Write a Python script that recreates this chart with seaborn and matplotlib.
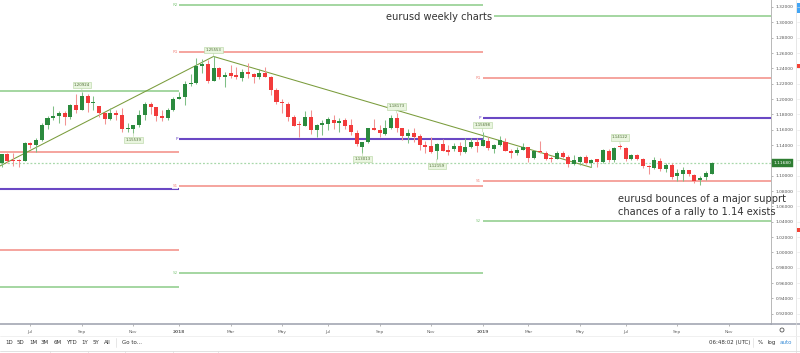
import numpy as np
import pandas as pd
import matplotlib
matplotlib.use("Agg")
import matplotlib.pyplot as plt
import matplotlib.transforms as mtransforms
from matplotlib.patches import Rectangle, Circle
import seaborn as sns

# ---------------- data ----------------
FIRST_WEEK = "2017-05-29"   # weekly bars (Mondays)
opens = [1.1165, 1.1283, 1.1205, 1.1200, 1.1194, 1.1424, 1.1395, 1.1465, 1.1663, 1.1750,
         1.1774, 1.1822, 1.1760, 1.1925, 1.1860, 1.2035, 1.1945, 1.1905, 1.1815, 1.1735,
         1.1820, 1.1785, 1.1605, 1.1608, 1.1662, 1.1790, 1.1930, 1.1895, 1.1772, 1.1750,
         1.1862, 1.2000, 1.2030, 1.2200, 1.2215, 1.2430, 1.2457, 1.2240, 1.2405, 1.2293,
         1.2335, 1.2313, 1.2280, 1.2355, 1.2325, 1.2283, 1.2335, 1.2288, 1.2120, 1.1965,
         1.1940, 1.1765, 1.1665, 1.1650, 1.1768, 1.1590, 1.1660, 1.1675, 1.1730, 1.1692,
         1.1725, 1.1655, 1.1561, 1.1380, 1.1443, 1.1617, 1.1598, 1.1540, 1.1617, 1.1748,
         1.1617, 1.1517, 1.1561, 1.1517, 1.1400, 1.1387, 1.1322, 1.1409, 1.1335, 1.1344,
         1.1391, 1.1304, 1.1370, 1.1435, 1.1387, 1.1457, 1.1348, 1.1400, 1.1443, 1.1322,
         1.1291, 1.1335, 1.1378, 1.1226, 1.1326, 1.1291, 1.1235, 1.1217, 1.1300, 1.1239,
         1.1148, 1.1183, 1.1239, 1.1161, 1.1213, 1.1175, 1.1326, 1.1204, 1.1378, 1.1356,
         1.1218, 1.1270, 1.1213, 1.1131, 1.1105, 1.1196, 1.1087, 1.1139, 1.0996, 1.1022,
         1.1070, 1.1013, 1.0939, 1.0987, 1.1026]
highs = [1.1285, 1.1296, 1.1296, 1.1212, 1.1445, 1.1445, 1.1490, 1.1684, 1.1777, 1.1910,
         1.1846, 1.1849, 1.1940, 1.2070, 1.2092, 1.2060, 1.2035, 1.1910, 1.1833, 1.1880,
         1.1860, 1.1880, 1.1690, 1.1666, 1.1862, 1.1961, 1.1961, 1.1900, 1.1862, 1.1880,
         1.2023, 1.2089, 1.2230, 1.2323, 1.2537, 1.2520, 1.2506, 1.2555, 1.2415, 1.2355,
         1.2445, 1.2413, 1.2388, 1.2476, 1.2339, 1.2396, 1.2414, 1.2300, 1.2144, 1.1996,
         1.1956, 1.1794, 1.1718, 1.1840, 1.1852, 1.1676, 1.1720, 1.1762, 1.1790, 1.1750,
         1.1750, 1.1745, 1.1600, 1.1445, 1.1623, 1.1734, 1.1660, 1.1720, 1.1790, 1.1815,
         1.1625, 1.1610, 1.1622, 1.1545, 1.1456, 1.1500, 1.1420, 1.1472, 1.1400, 1.1420,
         1.1440, 1.1486, 1.1485, 1.1497, 1.1570, 1.1500, 1.1416, 1.1515, 1.1490, 1.1342,
         1.1370, 1.1420, 1.1380, 1.1340, 1.1450, 1.1325, 1.1255, 1.1325, 1.1324, 1.1265,
         1.1265, 1.1263, 1.1265, 1.1215, 1.1220, 1.1348, 1.1348, 1.1370, 1.1412, 1.1375,
         1.1286, 1.1285, 1.1230, 1.1145, 1.1250, 1.1230, 1.1160, 1.1165, 1.1085, 1.1110,
         1.1075, 1.1025, 1.0999, 1.1063, 1.1172]
lows = [1.1110, 1.1170, 1.1132, 1.1119, 1.1186, 1.1366, 1.1313, 1.1455, 1.1612, 1.1730,
        1.1688, 1.1662, 1.1740, 1.1823, 1.1858, 1.1837, 1.1862, 1.1765, 1.1669, 1.1730,
        1.1730, 1.1574, 1.1574, 1.1554, 1.1632, 1.1722, 1.1810, 1.1717, 1.1717, 1.1724,
        1.1850, 1.1998, 1.1916, 1.2165, 1.2200, 1.2335, 1.2206, 1.2235, 1.2260, 1.2155,
        1.2270, 1.2260, 1.2240, 1.2280, 1.2215, 1.2255, 1.2283, 1.2055, 1.1940, 1.1823,
        1.1717, 1.1646, 1.1510, 1.1642, 1.1541, 1.1508, 1.1527, 1.1591, 1.1613, 1.1575,
        1.1610, 1.1530, 1.1390, 1.1301, 1.1430, 1.1590, 1.1510, 1.1525, 1.1611, 1.1575,
        1.1460, 1.1432, 1.1433, 1.1335, 1.1300, 1.1300, 1.1216, 1.1322, 1.1267, 1.1320,
        1.1269, 1.1300, 1.1355, 1.1310, 1.1385, 1.1340, 1.1290, 1.1390, 1.1322, 1.1234,
        1.1276, 1.1330, 1.1176, 1.1220, 1.1290, 1.1200, 1.1183, 1.1211, 1.1226, 1.1110,
        1.1135, 1.1135, 1.1150, 1.1107, 1.1116, 1.1160, 1.1181, 1.1181, 1.1350, 1.1193,
        1.1200, 1.1200, 1.1101, 1.1027, 1.1090, 1.1065, 1.1052, 1.0960, 1.0926, 1.0927,
        1.0990, 1.0905, 1.0879, 1.0940, 1.1025]
closes = [1.1283, 1.1196, 1.1195, 1.1190, 1.1424, 1.1400, 1.1465, 1.1663, 1.1750, 1.1774,
          1.1822, 1.1760, 1.1920, 1.1860, 1.2035, 1.1945, 1.1950, 1.1815, 1.1735, 1.1820,
          1.1785, 1.1605, 1.1608, 1.1662, 1.1790, 1.1930, 1.1895, 1.1772, 1.1750, 1.1862,
          1.2000, 1.2030, 1.2200, 1.2215, 1.2430, 1.2457, 1.2240, 1.2405, 1.2293, 1.2313,
          1.2300, 1.2290, 1.2355, 1.2325, 1.2283, 1.2335, 1.2288, 1.2120, 1.1960, 1.1945,
          1.1770, 1.1650, 1.1658, 1.1768, 1.1600, 1.1658, 1.1683, 1.1745, 1.1690, 1.1718,
          1.1650, 1.1568, 1.1409, 1.1440, 1.1617, 1.1600, 1.1552, 1.1625, 1.1748, 1.1617,
          1.1517, 1.1561, 1.1510, 1.1400, 1.1378, 1.1313, 1.1409, 1.1322, 1.1313, 1.1391,
          1.1304, 1.1370, 1.1435, 1.1387, 1.1465, 1.1357, 1.1400, 1.1465, 1.1322, 1.1291,
          1.1335, 1.1378, 1.1226, 1.1326, 1.1305, 1.1213, 1.1213, 1.1300, 1.1239, 1.1148,
          1.1204, 1.1239, 1.1161, 1.1204, 1.1183, 1.1330, 1.1204, 1.1365, 1.1372, 1.1213,
          1.1270, 1.1218, 1.1126, 1.1109, 1.1205, 1.1083, 1.1144, 1.0983, 1.1035, 1.1070,
          1.1017, 1.0930, 1.0974, 1.1035, 1.1168]

# yearly pivot levels (one segment per year)
pivot_years = [2017, 2018, 2019]
level_names = ["R2", "R1", "P", "S1", "S2"]
R2 = [1.2100, 1.3231, 1.3085]
R1 = [1.1311, 1.2618, 1.2276]
P = [1.0826, 1.1479, 1.1746]
S1 = [1.0036, 1.0866, 1.0937]
S2 = [0.9551, 0.9727, 1.0407]

# trend lines (date, price anchors)
trend1_dates = ["2017-05-22", "2018-02-12"]
trend1_prices = [1.1100, 1.2555]
trend2_dates = ["2018-02-12", "2019-05-20"]
trend2_prices = [1.2555, 1.1107]

# swing high / low markers
marker_dates = ["2017-09-04", "2017-11-06", "2018-02-12", "2018-08-13",
                "2018-09-24", "2018-11-12", "2019-01-07", "2019-06-24"]
marker_texts = ["1.20924", "1.15539", "1.25553", "1.13013",
                "1.18173", "1.12159", "1.15698", "1.14122"]
marker_side = ["high", "low", "high", "low", "high", "low", "high", "high"]

current_price = 1.1168
y_ticks = [round(0.92 + 0.02 * k, 2) for k in range(21)]
tick_months = pd.date_range("2017-07-01", "2019-11-01", freq="2MS")

title_text = "eurusd weekly charts"
note_lines = ["eurusd bounces of a major supprt", "chances of a rally to 1.14 exists"]

# ---------------- helpers ----------------
first = pd.Timestamp(FIRST_WEEK)
N = len(opens)
idx = np.arange(N)


def date_idx(d):
    return (pd.Timestamp(d) - first).days / 7.0


def first_bar_idx(d):
    return int(np.ceil((pd.Timestamp(d) - first).days / 7.0))


df = pd.DataFrame({"i": idx, "open": opens, "high": highs, "low": lows, "close": closes})
df["up"] = df["close"] >= df["open"]

# ---------------- figure ----------------
sns.set_theme(style="white")
plt.rcParams["font.family"] = ["DejaVu Sans"]

W, H = 800, 353
fig = plt.figure(figsize=(W / 100, H / 100), dpi=100)
fig.patch.set_facecolor("white")

ax_left, ax_right, ax_top, ax_bot = 0, 771, 0, 324.3
ax = fig.add_axes([ax_left / W, 1 - ax_bot / H, (ax_right - ax_left) / W, (ax_bot - ax_top) / H])
ax.set_facecolor("white")

px_per_bar = 5.725
x_lo = (0 - 1.7) / px_per_bar
ax.set_xlim(x_lo, (771 - 1.7) / px_per_bar)
ax.set_ylim(1.32 - (324.3 - 7) / 766.7, 1.32 + 7 / 766.7)

GREEN_BODY = "#2b8a3e"
RED_BODY = "#f23b3b"
GREEN_WICK = "#7fbf86"
RED_WICK = "#f29393"
LV_GREEN = "#8ccc88"
LV_RED = "#f28c84"
LV_PURPLE = "#6a48c4"
TREND = "#7a9c3c"

# pivot level segments
lvl_vals = {"R2": R2, "R1": R1, "P": P, "S1": S1, "S2": S2}
lvl_cols = {"R2": LV_GREEN, "R1": LV_RED, "P": LV_PURPLE, "S1": LV_RED, "S2": LV_GREEN}
lvl_lw = {"R2": 1.1, "R1": 1.1, "P": 1.5, "S1": 1.1, "S2": 1.1}
for k, yr in enumerate(pivot_years):
    s = first_bar_idx(f"{yr}-01-01")
    e = first_bar_idx(f"{yr + 1}-01-01")
    for name in level_names:
        v = lvl_vals[name][k]
        ax.hlines(v, s, e, color=lvl_cols[name], lw=lvl_lw[name], zorder=2)
        # labels left of each segment start (the 2019 R2 tag sits under the title)
        if s > x_lo + 1 and not (yr == 2019 and name == "R2"):
            ax.text(s - 0.25, v, name, fontsize=3, color=lvl_cols[name], ha="right", va="center",
                    zorder=3, clip_on=True,
                    bbox=dict(boxstyle="square,pad=0.15", fc="white", ec="none", alpha=0.8))

# current price dotted line
ax.axhline(current_price, color="#a8d8aa", lw=0.9, ls=(0, (1.5, 1.5)), zorder=2)

# trend lines via seaborn
tdf = pd.DataFrame({
    "x": [date_idx(d) for d in trend1_dates + trend2_dates],
    "y": trend1_prices + trend2_prices,
    "seg": ["a", "a", "b", "b"],
})
sns.lineplot(data=tdf, x="x", y="y", units="seg", estimator=None, color=TREND, lw=0.75,
             ax=ax, zorder=4, legend=False)

# candles
min_body = 0.0011
for _, r in df.iterrows():
    wc = GREEN_WICK if r["up"] else RED_WICK
    bc = GREEN_BODY if r["up"] else RED_BODY
    ax.vlines(r["i"], r["low"], r["high"], color=wc, lw=0.75, zorder=5)
    lo = min(r["open"], r["close"])
    hgt = max(abs(r["close"] - r["open"]), min_body)
    ax.bar(r["i"], hgt, bottom=lo, width=0.7, color=bc, linewidth=0, zorder=6)

# swing markers
for d, t, side in zip(marker_dates, marker_texts, marker_side):
    i = first_bar_idx(d)
    if side == "high":
        yv, off, va = highs[i], 3.4, "bottom"
    else:
        yv, off, va = lows[i], -3.4, "top"
    ax.annotate(t, xy=(i, yv), xytext=(0, off), textcoords="offset points",
                ha="center", va=va, fontsize=2.8, color="#4d6b33", zorder=8,
                bbox=dict(boxstyle="square,pad=0.3", fc="#e9f5df", ec="#b5d4a0", lw=0.4),
                arrowprops=dict(arrowstyle="-", color="#b5d4a0", lw=0.4, shrinkA=0, shrinkB=0))

# axes styling
for sp in ["top", "left"]:
    ax.spines[sp].set_visible(False)
ax.spines["bottom"].set_color("#a3a7b3")
ax.spines["bottom"].set_linewidth(1.2)
ax.spines["right"].set_color("#b8b8b8")
ax.spines["right"].set_linewidth(0.7)

ax.yaxis.tick_right()
ax.set_yticks(y_ticks)
ax.set_yticklabels([f"{v:.5f}" for v in y_ticks])
ax.tick_params(axis="y", which="both", right=True, length=1.6, width=0.5, color="#999999",
               labelsize=3.2, labelcolor="#555555", pad=1.6)

xt = [first_bar_idx(m) for m in tick_months]
xl = [str(m.year) if m.month == 1 else m.strftime("%b") for m in tick_months]
ax.set_xticks(xt)
ax.set_xticklabels(xl)
for lab, m in zip(ax.get_xticklabels(), tick_months):
    if m.month == 1:
        lab.set_fontweight("bold")
ax.tick_params(axis="x", which="both", bottom=True, length=1.6, width=0.5, color="#999999",
               labelsize=3.2, labelcolor="#666666", pad=2.2)
ax.set_xlabel("")
ax.set_ylabel("")
ax.grid(False)

# current price tag on the right axis (covers the nearby tick label, as in the app)
trans = mtransforms.blended_transform_factory(ax.transAxes, ax.transData)
ax.text(1.0 + 2.5 / 771, current_price, "1.11680", transform=trans, fontsize=3.2,
        color="white", ha="left", va="center", clip_on=False, zorder=9,
        bbox=dict(boxstyle="square,pad=0.45", fc="#2e7d32", ec="#2e7d32", lw=0.3))
for lab, v in zip(ax.get_yticklabels(), y_ticks):
    if abs(v - current_price) < 0.006:
        lab.set_visible(False)

# ---------------- overlay (pixel coords) ----------------
ov = fig.add_axes([0, 0, 1, 1], zorder=10)
ov.set_xlim(0, W)
ov.set_ylim(H, 0)
ov.axis("off")
ov.patch.set_alpha(0)

ov.text(386, 17.5, title_text, fontsize=7.1, color="#333333", ha="left", va="center",
        bbox=dict(boxstyle="square,pad=0.15", fc="white", ec="none"))
ov.text(618, 199.5, note_lines[0], fontsize=7.1, color="#333333", ha="left", va="center")
ov.text(618, 211.8, note_lines[1], fontsize=7.1, color="#333333", ha="left", va="center")

# right side extra column
ov.plot([771, 800], [324.3, 324.3], color="#a3a7b3", lw=1.2)
ov.plot([795.5, 795.5], [0, 353], color="#dddddd", lw=0.5)
for yy in np.arange(7, 324, 15.33):
    ov.plot([797, 800], [yy, yy], color="#e3e3e3", lw=0.4)
ov.add_patch(Rectangle((797, 3), 3, 10, fc="#42a5f5", ec="none"))
ov.add_patch(Rectangle((797, 64), 3, 4, fc="#f44336", ec="none"))
ov.add_patch(Rectangle((797, 228), 3, 3.5, fc="#f44336", ec="none"))
ov.add_patch(Circle((782, 330), 2.0, fc="none", ec="#555555", lw=0.6))

# toolbar
ov.plot([0, 800], [336, 336], color="#eeeeee", lw=0.6)
ov.plot([0, 800], [351, 351], color="#dddddd", lw=0.6)
for xs in [50, 88, 125, 173, 218]:
    ov.plot([xs, xs], [351, 353], color="#dddddd", lw=0.5)
btns = ["1D", "5D", "1M", "3M", "6M", "YTD", "1Y", "5Y", "All"]
bx = [5, 16.7, 29, 41, 53.3, 65.7, 81.7, 93, 104.3]
for b, xb in zip(btns, bx):
    ov.text(xb, 342.7, b, fontsize=4.0, color="#333333", ha="left", va="center")
ov.plot([116, 116], [338, 347], color="#dddddd", lw=0.5)
ov.text(121.7, 342.7, "Go to...", fontsize=4.0, color="#333333", ha="left", va="center")
ov.text(709, 342.5, "06:48:02 (UTC)", fontsize=4.0, color="#333333", ha="left", va="center")
ov.plot([753, 753], [338, 347], color="#dddddd", lw=0.5)
ov.text(758, 342.5, "%", fontsize=4.0, color="#333333", ha="left", va="center")
ov.text(767.5, 342.5, "log", fontsize=4.0, color="#333333", ha="left", va="center")
ov.text(780, 342.5, "auto", fontsize=4.0, color="#3d8fd8", ha="left", va="center")

fig.savefig("out.png", dpi=100, facecolor="white")
